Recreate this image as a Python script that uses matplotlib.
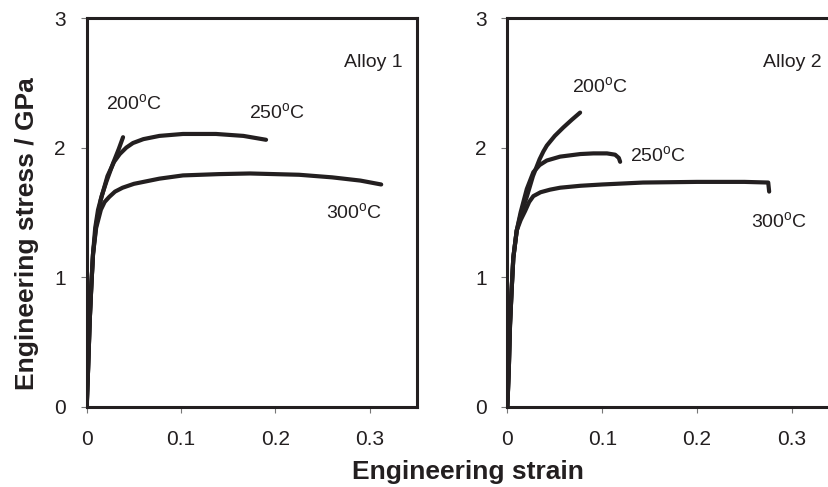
import numpy as np
import matplotlib
matplotlib.use('Agg')
from matplotlib import pyplot as plt

plt.rcParams['font.family'] = ['Liberation Sans', 'DejaVu Sans']
plt.rcParams['mathtext.fontset'] = 'custom'
plt.rcParams['mathtext.rm'] = 'Liberation Sans'

INK = '#231f20'

# Alloy 1 stress-strain curves (strain, stress in GPa)
a1_200_x = [0, 0.0015, 0.0032, 0.0050, 0.0067, 0.0090, 0.0120, 0.0160, 0.0210, 0.0280, 0.0340, 0.0385]
a1_200_y = [0, 0.30, 0.67, 0.95, 1.18, 1.38, 1.52, 1.63, 1.74, 1.88, 1.99, 2.08]

a1_250_x = [0, 0.0015, 0.0032, 0.0050, 0.0067, 0.0100, 0.0150, 0.0220, 0.0290, 0.0350, 0.0420, 0.0490,
            0.0600, 0.0770, 0.1020, 0.1370, 0.1660, 0.1900]
a1_250_y = [0, 0.30, 0.67, 0.95, 1.18, 1.40, 1.60, 1.78, 1.89, 1.95, 2.00, 2.035,
            2.065, 2.09, 2.105, 2.105, 2.09, 2.06]

a1_300_x = [0, 0.0015, 0.0032, 0.0050, 0.0067, 0.0100, 0.0150, 0.0190, 0.0240, 0.0300, 0.0380, 0.0500,
            0.0770, 0.1020, 0.1400, 0.1730, 0.2250, 0.2600, 0.2900, 0.3120]
a1_300_y = [0, 0.30, 0.67, 0.95, 1.18, 1.38, 1.52, 1.58, 1.62, 1.66, 1.69, 1.72,
            1.76, 1.785, 1.795, 1.80, 1.79, 1.77, 1.745, 1.715]

# Alloy 2 stress-strain curves
a2_200_x = [0, 0.0015, 0.0028, 0.0045, 0.0063, 0.0099, 0.0140, 0.0205, 0.0270, 0.0340, 0.0380, 0.0416,
            0.0500, 0.0590, 0.0680, 0.0767]
a2_200_y = [0, 0.28, 0.63, 0.90, 1.15, 1.36, 1.48, 1.62, 1.78, 1.91, 1.97, 2.015,
            2.09, 2.155, 2.215, 2.27]

a2_250_x = [0, 0.0015, 0.0028, 0.0045, 0.0063, 0.0099, 0.0140, 0.0205, 0.0274, 0.0340, 0.0416, 0.0556,
            0.0770, 0.0907, 0.1050, 0.1136, 0.1175, 0.1189]
a2_250_y = [0, 0.28, 0.63, 0.90, 1.15, 1.36, 1.50, 1.68, 1.81, 1.865, 1.90, 1.93,
            1.95, 1.955, 1.955, 1.945, 1.92, 1.89]

a2_300_x = [0, 0.0015, 0.0028, 0.0045, 0.0063, 0.0099, 0.0140, 0.0187, 0.0230, 0.0274, 0.0350, 0.0450,
            0.0556, 0.0770, 0.1000, 0.1430, 0.2000, 0.2500, 0.2750, 0.2760]
a2_300_y = [0, 0.28, 0.63, 0.90, 1.15, 1.36, 1.44, 1.51, 1.58, 1.625, 1.655, 1.675,
            1.69, 1.705, 1.715, 1.73, 1.735, 1.735, 1.73, 1.66]

panels = [
    ('Alloy 1', [(a1_200_x, a1_200_y), (a1_250_x, a1_250_y), (a1_300_x, a1_300_y)],
     [(0.020, 2.34), (0.172, 2.27), (0.254, 1.50)], (0.273, 2.66)),
    ('Alloy 2', [(a2_200_x, a2_200_y), (a2_250_x, a2_250_y), (a2_300_x, a2_300_y)],
     [(0.068, 2.47), (0.129, 1.94), (0.257, 1.43)], (0.269, 2.66)),
]
temps = ['200', '250', '300']

fig = plt.figure(figsize=(8.29, 4.87), dpi=100)
positions = [[0.1046, 0.165, 0.3985, 0.798], [0.612, 0.165, 0.4005, 0.798]]

for pos, (name, curves, label_pos, name_pos) in zip(positions, panels):
    ax = fig.add_axes(pos)
    for (x, y) in curves:
        ax.plot(x, y, color=INK, linewidth=3.0, solid_capstyle='round', solid_joinstyle='round')
    for t, (lx, ly) in zip(temps, label_pos):
        ax.text(lx, ly, t + r'$^{\mathrm{o}}$C', fontsize=14, color=INK, ha='left', va='center')
    ax.text(name_pos[0], name_pos[1], name, fontsize=14, color=INK, ha='left', va='center')

    ax.set_xlim(0, 0.35)
    ax.set_ylim(0, 3)
    ax.set_xticks([0, 0.1, 0.2, 0.3])
    ax.set_xticklabels(['0', '0.1', '0.2', '0.3'])
    ax.set_yticks([0, 1, 2, 3])
    for s in ax.spines.values():
        s.set_linewidth(2.2)
        s.set_color(INK)
    ax.tick_params(direction='out', length=4, width=0.8, color='#777777',
                   labelsize=15, labelcolor=INK)
    ax.tick_params(axis='x', pad=13)
    ax.tick_params(axis='y', pad=11)

fig.text(0.033, 0.52, 'Engineering stress / GPa', rotation=90, fontsize=19,
         fontweight='bold', color=INK, ha='center', va='center')
fig.text(0.565, 0.03, 'Engineering strain', fontsize=19, fontweight='bold',
         color=INK, ha='center', va='center')

fig.savefig('out.png', dpi=100)
